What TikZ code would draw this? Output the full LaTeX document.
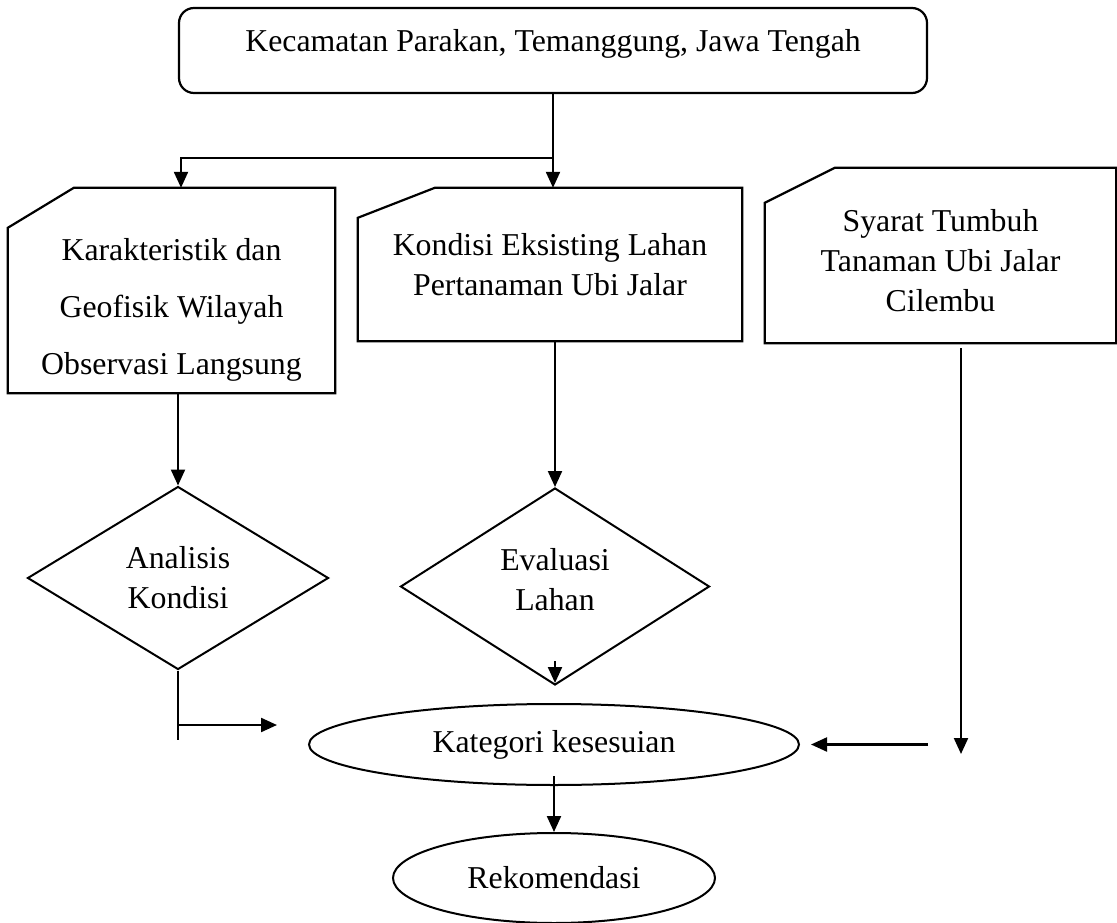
\documentclass[tikz,border=0pt]{standalone}
\usepackage{fontspec}
\setmainfont{Liberation Serif}
\usetikzlibrary{shapes.geometric,arrows.meta}
\tikzset{
        every node/.style={font=\fontsize{31.8}{40}\selectfont},
        roundbox/.style={draw=black, line width=2.2pt, rounded corners=15pt, minimum width=748pt, minimum height=85pt, text height=22pt, text depth=19pt},
        card/.style 2 args={align=center, inner sep=0pt,
          append after command={\pgfextra{\let\cardnode\tikzlastnode
            \draw[draw=black, line width=2.2pt] ([xshift=#1]\cardnode.north west) -- (\cardnode.north east) -- (\cardnode.south east)
            -- (\cardnode.south west) -- ([yshift=-#2]\cardnode.north west) -- cycle;}}},
        decide/.style={draw=black, line width=2pt, diamond, align=center, inner sep=0pt},
        oval/.style={draw=black, line width=2pt, ellipse, inner sep=0pt},
        flow/.style={line width=2.2pt, -{Triangle[length=16pt, width=14pt]}},
        plain/.style={line width=2.2pt}
          }
\begin{document}
\begin{tikzpicture}[x=1pt, y=-1pt]
        \useasboundingbox (0,0) rectangle (1117,923);
        \node[roundbox] (top) at (553,50.5) {Kecamatan Parakan, Temanggung, Jawa Tengah};
        \node[card={66pt}{40pt}, minimum width=327pt, minimum height=205pt] (k1) at (171.5,290.5)
          {\rule{0pt}{61pt}Karakteristik dan\\[17pt] Geofisik Wilayah\\[17pt] Observasi Langsung};
        \node[card={77pt}{30pt}, minimum width=384pt, minimum height=153pt] (k2) at (550,264.5)
          {Kondisi Eksisting Lahan\\ Pertanaman Ubi Jalar};
        \node[card={70pt}{35pt}, minimum width=351pt, minimum height=175pt] (k3) at (940.5,255.5)
          {\rule{0pt}{33pt}Syarat Tumbuh\\ Tanaman Ubi Jalar\\ Cilembu};
        \node[decide, minimum width=301pt, minimum height=183pt] (d1) at (178,578) {Analisis\\ Kondisi};
        \node[decide, minimum width=309pt, minimum height=197pt] (d2) at (555,586.5) {Evaluasi\\ Lahan\rule[-15pt]{0pt}{15pt}};
        \node[oval, minimum width=490pt, minimum height=81pt] (e1) at (554,744.5) {Kategori kesesuian};
        \node[oval, minimum width=322pt, minimum height=90pt] (e2) at (554,878) {Rekomendasi};
        \coordinate (split) at (553,158);
        \coordinate (feed) at (277,725);
        \coordinate (drop) at (961,754);
        \draw[flow] (top) -- (top |- k2.north);
        \draw[flow] (split) -| ([xshift=9.5pt]k1.north);
        \draw[flow] (k1.south -| d1.north) -- (d1.north);
        \draw[flow] (k2.south -| d2.north) -- (d2.north);
        \draw[flow] ([yshift=25pt]d2.south) -- ([yshift=3pt]d2.south);
        \draw[plain] (d1.south) -- ++(0,69);
        \draw[flow] (feed -| d1.south) -- (feed);
        \draw[flow] (k3.south -| drop) ++(0,5) -- (drop);
        \draw[flow] ([xshift=128pt]e1.east) -- ([xshift=11pt]e1.east);
        \draw[flow] ([yshift=10pt]e1.south) -- (e2.north);
\end{tikzpicture}
\end{document}
